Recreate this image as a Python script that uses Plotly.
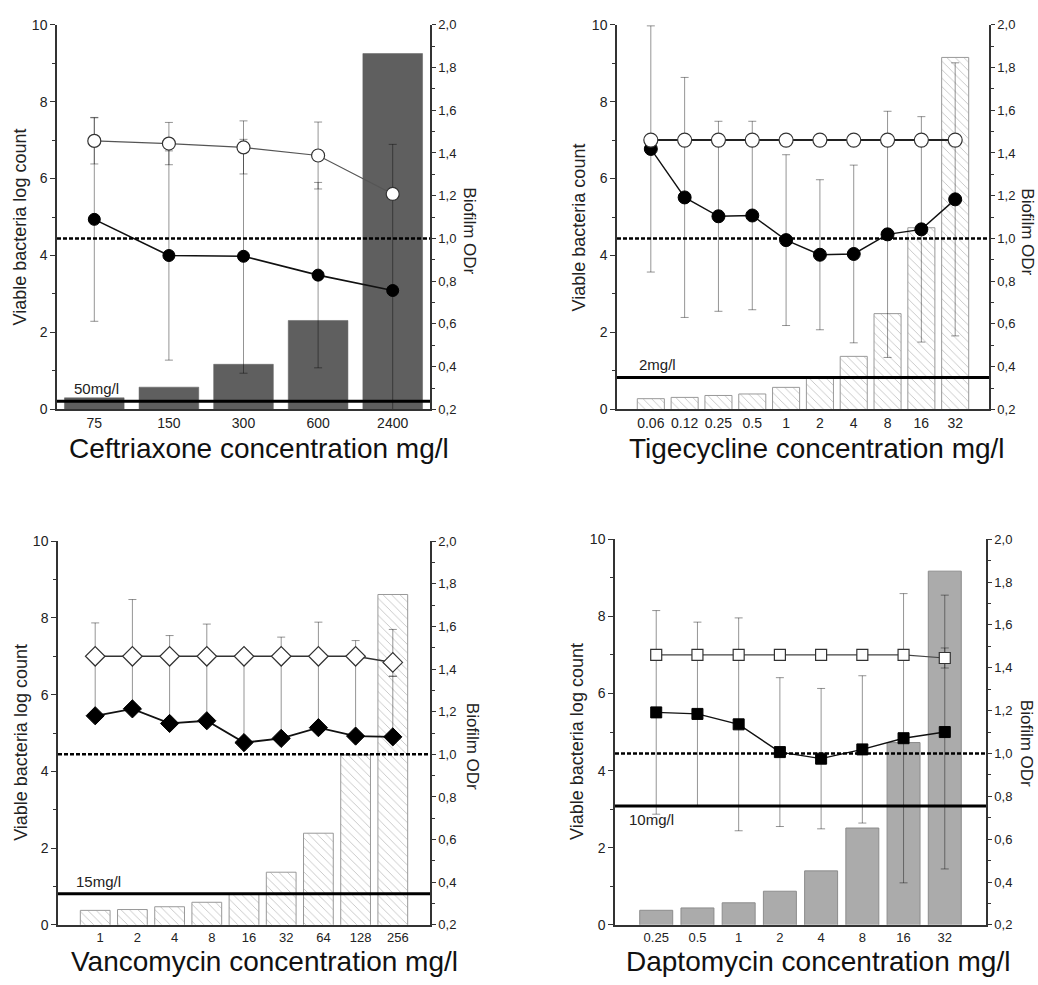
import plotly.graph_objects as go

# ---------------- data ----------------
# Panel 1: Ceftriaxone
cef_conc = ["75", "150", "300", "600", "2400"]
cef_biofilm = [0.254, 0.304, 0.411, 0.616, 1.865]
cef_control = [6.98, 6.91, 6.81, 6.60, 5.60]
cef_control_err = [0.60, 0.55, 0.69, 0.87, 0.10]
cef_treated = [4.94, 4.00, 3.98, 3.49, 3.09]
cef_treated_err = [2.65, 2.72, 3.04, 2.41, 3.80]
cef_breakpoint = 0.21
cef_breakpoint_label = "50mg/l"

# Panel 2: Tigecycline
tig_conc = ["0.06", "0.12", "0.25", "0.5", "1", "2", "4", "8", "16", "32"]
tig_biofilm = [0.250, 0.256, 0.265, 0.272, 0.303, 0.346, 0.448, 0.648, 1.050, 1.847]
tig_control = [7.0, 7.0, 7.0, 7.0, 7.0, 7.0, 7.0, 7.0, 7.0, 7.0]
tig_control_err = [0, 0, 0, 0, 0, 0, 0, 0, 0, 0]
tig_treated = [6.77, 5.51, 5.02, 5.04, 4.40, 4.02, 4.04, 4.55, 4.68, 5.46]
tig_treated_err = [3.20, 3.12, 2.47, 2.45, 2.22, 1.95, 2.31, 3.20, 2.93, 3.55]
tig_breakpoint = 0.83
tig_breakpoint_label = "2mg/l"

# Panel 3: Vancomycin
van_conc = ["1", "2", "4", "8", "16", "32", "64", "128", "256"]
van_biofilm = [0.268, 0.272, 0.285, 0.306, 0.346, 0.447, 0.630, 0.997, 1.750]
van_control = [7.0, 7.0, 7.0, 7.0, 7.0, 7.0, 7.0, 7.0, 6.84]
van_control_err_up = [0.87, 1.48, 0.54, 0.84, 0.0, 0.50, 0.89, 0.41, 0.86]
van_control_err_down = [0, 0, 0, 0, 0, 0, 0, 0, 0.36]
van_treated = [5.45, 5.63, 5.25, 5.32, 4.75, 4.86, 5.14, 4.92, 4.90]
van_treated_err_up = [1.55, 1.37, 1.75, 1.68, 2.25, 2.14, 1.86, 2.08, 1.58]
van_treated_err_down = [0, 0, 0, 0, 0, 0, 0, 0, 0]
van_breakpoint = 0.81
van_breakpoint_label = "15mg/l"

# Panel 4: Daptomycin
dap_conc = ["0.25", "0.5", "1", "2", "4", "8", "16", "32"]
dap_biofilm = [0.268, 0.279, 0.303, 0.357, 0.452, 0.652, 1.051, 1.851]
dap_control = [7.0, 7.0, 7.0, 7.0, 7.0, 7.0, 7.0, 6.92]
dap_control_err = [0, 0, 0, 0, 0, 0, 0, 0.26]
dap_treated = [5.51, 5.47, 5.20, 4.48, 4.31, 4.55, 4.84, 5.00]
dap_treated_err = [2.64, 2.38, 2.76, 1.93, 1.82, 1.91, 3.75, 3.55]
dap_breakpoint = 3.08
dap_breakpoint_label = "10mg/l"

odr_threshold = 1.0

left_ticks = [0, 2, 4, 6, 8, 10]
left_minor = [1, 3, 5, 7, 9]
right_ticks = [0.2, 0.4, 0.6, 0.8, 1.0, 1.2, 1.4, 1.6, 1.8, 2.0]
right_ticktext = ["0,2", "0,4", "0,6", "0,8", "1,0", "1,2", "1,4", "1,6", "1,8", "2,0"]
right_minor = [0.3, 0.5, 0.7, 0.9, 1.1, 1.3, 1.5, 1.7, 1.9]

# ---------------- layout helpers ----------------
W, H = 1038, 985
FONT = "Liberation Sans, Arial, sans-serif"
TXT = "#222222"

def fx(px):
    return px / W

def fy(py):
    return 1 - py / H

panels = [
    dict(conc=cef_conc, bio=cef_biofilm, ctrl=cef_control, ctrl_up=cef_control_err, ctrl_dn=cef_control_err,
         trt=cef_treated, trt_up=cef_treated_err, trt_dn=cef_treated_err, bp=cef_breakpoint, bpl=cef_breakpoint_label,
         bp_below=False, symbol="circle", osize=13, fsize=12,
         bar=dict(color="#5f5f5f", line=dict(color="#5f5f5f", width=0.5)),
         px=(57, 430), py=(17, 408), xr=[-0.5, 4.5], tshift=0, xtf=14,
         title="Ceftriaxone concentration mg/l", ytitle="Viable bacteria log count",
         tpos=(259, 448), ylpos=(20, 223), yrpos=(470, 226), bpx=0.04, ocol="#555", olw=1.2, flw=1.6),
    dict(conc=tig_conc, bio=tig_biofilm, ctrl=tig_control, ctrl_up=tig_control_err, ctrl_dn=tig_control_err,
         trt=tig_treated, trt_up=tig_treated_err, trt_dn=tig_treated_err, bp=tig_breakpoint, bpl=tig_breakpoint_label,
         bp_below=False, symbol="circle", osize=14, fsize=13,
         bar=dict(color="white", line=dict(color="#999999", width=1),
                  pattern=dict(shape="\\", fgcolor="#8a8a8a", size=6, solidity=0.15)),
         px=(617, 989), py=(17, 408), xr=[-1, 10], tshift=0, xtf=14,
         title="Tigecycline concentration mg/l", ytitle="Viable bacteria count",
         tpos=(817, 448), ylpos=(579, 223), yrpos=(1028, 227), bpx=0.054, ocol="#222", olw=2, flw=1.4),
    dict(conc=van_conc, bio=van_biofilm, ctrl=van_control, ctrl_up=van_control_err_up, ctrl_dn=van_control_err_down,
         trt=van_treated, trt_up=van_treated_err_up, trt_dn=van_treated_err_down, bp=van_breakpoint, bpl=van_breakpoint_label,
         bp_below=False, symbol="diamond", osize=15, fsize=14,
         bar=dict(color="white", line=dict(color="#999999", width=1),
                  pattern=dict(shape="\\", fgcolor="#8a8a8a", size=6, solidity=0.15)),
         px=(58, 430), py=(542, 932), xr=[-1, 9], tshift=5, xtf=13,
         title="Vancomycin concentration mg/l", ytitle="Viable bacteria log count",
         tpos=(264, 969), ylpos=(21, 747), yrpos=(472, 750), bpx=0.043, ocol="#333", olw=1.6, flw=1.8),
    dict(conc=dap_conc, bio=dap_biofilm, ctrl=dap_control, ctrl_up=dap_control_err, ctrl_dn=dap_control_err,
         trt=dap_treated, trt_up=dap_treated_err, trt_dn=dap_treated_err, bp=dap_breakpoint, bpl=dap_breakpoint_label,
         bp_below=True, symbol="square", osize=11, fsize=11,
         bar=dict(color="#ababab", line=dict(color="#8c8c8c", width=1)),
         px=(615, 986), py=(540, 932), xr=[-1, 8], tshift=0, xtf=13,
         title="Daptomycin concentration mg/l", ytitle="Viable bacteria log count",
         tpos=(818, 969), ylpos=(577, 746), yrpos=(1026, 747), bpx=0.032, ocol="#444", olw=1.2, flw=1.4),
]

fig = go.Figure()
layout = dict(width=W, height=H, margin=dict(l=0, r=0, t=0, b=0),
              paper_bgcolor="white", plot_bgcolor="white", showlegend=False,
              font=dict(family=FONT, color=TXT, size=14), bargap=0.2)
shapes, annotations = [], []

err_col = "rgba(0,0,0,0.42)"

for i, p in enumerate(panels, start=1):
    xa = "x" if i == 1 else f"x{i}"
    ybase_n = 2 * i - 1
    yover_n = 2 * i
    yb = "y" if ybase_n == 1 else f"y{ybase_n}"
    yo = f"y{yover_n}"
    xdom = [fx(p["px"][0]), fx(p["px"][1])]
    ydom = [fy(p["py"][1]), fy(p["py"][0])]

    # bars: biofilm ODr on right (base) axis
    fig.add_trace(go.Bar(x=p["conc"], y=p["bio"], xaxis=xa, yaxis=yb, width=0.8,
                         marker=p["bar"], hoverinfo="skip"))
    # treated (filled) series
    fig.add_trace(go.Scatter(
        x=p["conc"], y=p["trt"], xaxis=xa, yaxis=yo, mode="lines+markers",
        line=dict(color="#111", width=p["flw"]),
        marker=dict(symbol=p["symbol"], size=p["fsize"], color="black", line=dict(color="black", width=1)),
        error_y=dict(type="data", array=p["trt_up"], arrayminus=p["trt_dn"], symmetric=False,
                     color=err_col, thickness=1, width=4)))
    # control (open) series
    fig.add_trace(go.Scatter(
        x=p["conc"], y=p["ctrl"], xaxis=xa, yaxis=yo, mode="lines+markers",
        line=dict(color=p["ocol"], width=p["olw"]),
        marker=dict(symbol=p["symbol"], size=p["osize"], color="white", line=dict(color="#333", width=1.2)),
        error_y=dict(type="data", array=p["ctrl_up"], arrayminus=p["ctrl_dn"], symmetric=False,
                     color=err_col, thickness=1, width=4)))

    xkey = "xaxis" if i == 1 else f"xaxis{i}"
    layout[xkey] = dict(domain=xdom, anchor=yb, type="category", range=p["xr"],
                        showline=True, linecolor="#333", linewidth=1.5, ticks="",
                        showgrid=False, zeroline=False, ticklabelshift=p["tshift"],
                        tickfont=dict(size=p["xtf"], color=TXT, family=FONT))
    ybkey = "yaxis" if ybase_n == 1 else f"yaxis{ybase_n}"
    layout[ybkey] = dict(domain=ydom, anchor=xa, side="right", range=[0.2, 2.0],
                         tickvals=right_ticks, ticktext=right_ticktext,
                         ticks="outside", ticklen=4, tickwidth=1, tickcolor="#333",
                         minor=dict(tickvals=right_minor, ticks="outside", ticklen=3, tickcolor="#333"),
                         showline=True, linecolor="#333", linewidth=1.5,
                         showgrid=False, zeroline=False,
                         tickfont=dict(size=13, color=TXT, family=FONT))
    layout[f"yaxis{yover_n}"] = dict(domain=ydom, anchor=xa, overlaying=yb, side="left", range=[0, 10],
                                     tickvals=left_ticks, ticks="outside", ticklen=5, tickwidth=1, tickcolor="#333",
                                     minor=dict(tickvals=left_minor, ticks="outside", ticklen=3, tickcolor="#333"),
                                     showline=True, linecolor="#333", linewidth=1.5,
                                     showgrid=False, zeroline=False,
                                     tickfont=dict(size=14, color=TXT, family=FONT))

    # threshold ODr dashed line
    shapes.append(dict(type="line", xref=f"{xa} domain", x0=0, x1=1, yref=yb, y0=odr_threshold, y1=odr_threshold,
                       line=dict(color="black", width=2.5, dash="4px,2px"), layer="above"))
    # breakpoint line
    shapes.append(dict(type="line", xref=f"{xa} domain", x0=0, x1=1, yref=yo, y0=p["bp"], y1=p["bp"],
                       line=dict(color="black", width=3), layer="above"))
    annotations.append(dict(text=p["bpl"], xref=f"{xa} domain", x=p["bpx"], yref=yo, y=p["bp"],
                            xanchor="left", yanchor="top" if p["bp_below"] else "bottom",
                            yshift=-3 if p["bp_below"] else 2, showarrow=False,
                            font=dict(size=15, color=TXT, family=FONT)))
    # titles
    annotations.append(dict(text=p["title"], xref="paper", yref="paper", x=fx(p["tpos"][0]), y=fy(p["tpos"][1]),
                            xanchor="center", yanchor="middle", showarrow=False,
                            font=dict(size=28, color="#111", family=FONT)))
    annotations.append(dict(text=p["ytitle"], xref="paper", yref="paper", x=fx(p["ylpos"][0]), y=fy(p["ylpos"][1]),
                            xanchor="center", yanchor="middle", textangle=-90, showarrow=False,
                            font=dict(size=18, color=TXT, family=FONT)))
    annotations.append(dict(text="Biofilm ODr", xref="paper", yref="paper", x=fx(p["yrpos"][0]), y=fy(p["yrpos"][1]),
                            xanchor="center", yanchor="middle", textangle=90, showarrow=False,
                            font=dict(size=17, color=TXT, family=FONT)))

layout["shapes"] = shapes
layout["annotations"] = annotations
fig.update_layout(**layout)
fig.write_html("out.html", config={"displayModeBar": False},
               post_script="document.body.style.margin='0';document.body.style.overflow='hidden';")
